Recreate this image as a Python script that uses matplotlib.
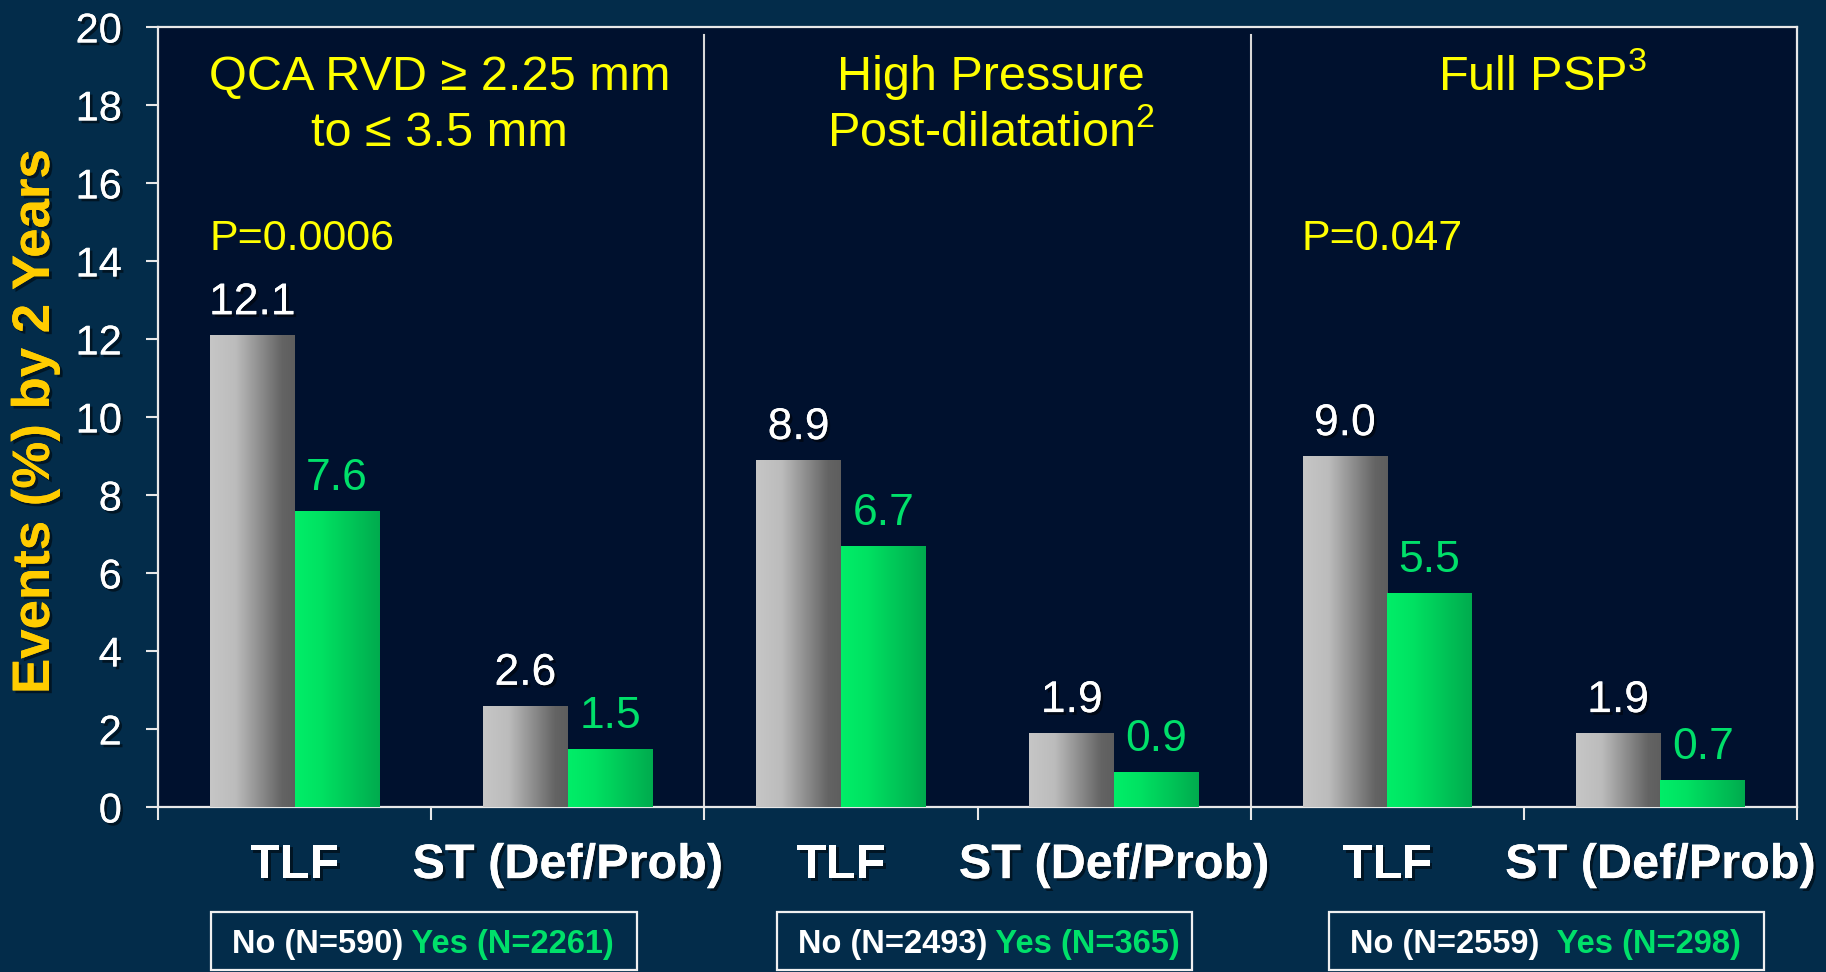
import matplotlib
matplotlib.use("Agg")
import matplotlib.pyplot as plt
import matplotlib.patheffects as pe
from matplotlib.colors import LinearSegmentedColormap
from matplotlib.patches import Rectangle
import numpy as np

# two-year event rates, grouped as (TLF, ST) per subgroup
panel_titles = ["QCA RVD \u2265 2.25 mm\nto \u2264 3.5 mm", "High Pressure\nPost-dilatation$^{2}$", "Full PSP$^{3}$"]
endpoints = ["TLF", "ST (Def/Prob)"]
no_rates = [12.1, 2.6, 8.9, 1.9, 9.0, 1.9]
yes_rates = [7.6, 1.5, 6.7, 0.9, 5.5, 0.7]
p_values = ["P=0.0006", None, "P=0.047"]
no_n = [590, 2493, 2559]
yes_n = [2261, 365, 298]

BG = "#032c4a"
PANEL = "#00112e"
YELLOW = "#ffff00"
GREEN_TXT = "#00e06a"
SANS = ["Liberation Sans", "DejaVu Sans"]

plt.rcParams["font.family"] = SANS
plt.rcParams["mathtext.fontset"] = "custom"
plt.rcParams["mathtext.rm"] = "Liberation Sans"
plt.rcParams["mathtext.it"] = "Liberation Sans:italic"
plt.rcParams["mathtext.bf"] = "Liberation Sans:bold"

gray_cmap = LinearSegmentedColormap.from_list(
    "gray_bar", [(0, "#c6c6c6"), (0.3, "#bcbcbc"), (0.85, "#646464"), (1, "#5e5e5e")])
green_cmap = LinearSegmentedColormap.from_list(
    "green_bar", [(0, "#00ee68"), (0.3, "#00e262"), (1, "#00ab4e")])

W, H = 1826, 972
fig = plt.figure(figsize=(W / 100, H / 100), dpi=100, facecolor=BG)
ax = fig.add_axes([158 / W, 1 - 807 / H, (1797 - 158) / W, (807 - 27) / H])
ax.set_facecolor(PANEL)

x = np.arange(len(no_rates))
bw = 0.31
shadow = [pe.withSimplePatchShadow(offset=(2, -2), shadow_rgbFace="black", alpha=0.5), pe.Normal()]


def gradient_bars(xs, heights, cmap):
    bars = ax.bar(xs, heights, width=bw, color="none", edgecolor="none", zorder=3)
    grad = np.linspace(0, 1, 256).reshape(1, -1)
    for b in bars:
        x0, y0 = b.get_x(), b.get_y()
        im = ax.imshow(grad, cmap=cmap, aspect="auto", zorder=3,
                       extent=[x0, x0 + b.get_width(), y0, y0 + b.get_height()])
        im.set_clip_path(b)
    return bars


gradient_bars(x - bw / 2, no_rates, gray_cmap)
gradient_bars(x + bw / 2, yes_rates, green_cmap)

for xi, v in zip(x, no_rates):
    ax.annotate(f"{v:.1f}", (xi - bw / 2, v), xytext=(0, 15), textcoords="offset points",
                ha="center", va="baseline", color="white", fontsize=32, path_effects=shadow)
for xi, v in zip(x, yes_rates):
    ax.annotate(f"{v:.1f}", (xi + bw / 2, v), xytext=(0, 15), textcoords="offset points",
                ha="center", va="baseline", color=GREEN_TXT, fontsize=32)

ax.set_xlim(-0.5, 5.5)
ax.set_ylim(0, 20)

# panel separators
for xd in (1.5, 3.5):
    ax.axvline(xd, ymax=0.99, color="#d8d8d8", lw=1.5, zorder=2)

# subgroup titles and p-values
title_x = [0.53, 2.55, 4.57]
for i, title in enumerate(panel_titles):
    for j, line in enumerate(title.split("\n")):
        ax.text(title_x[i], 18.39 - j * 1.43, line, ha="center", va="baseline",
                color=YELLOW, fontsize=35)
    if p_values[i]:
        ax.text(2 * i - 0.313, 14.27, p_values[i], ha="left", va="baseline",
                color=YELLOW, fontsize=31)

for s in ax.spines.values():
    s.set_color("#e8e8e8")
    s.set_linewidth(1.6)

ax.set_yticks(np.arange(0, 21, 2))
ax.tick_params(axis="y", colors="#e8e8e8", length=9, width=1.5, pad=17, labelsize=30,
               labelcolor="white")
for t in ax.get_yticklabels():
    t.set_path_effects(shadow)

ax.set_xticks(np.arange(-0.5, 6, 1))
ax.set_xticklabels([])
ax.tick_params(axis="x", colors="#e8e8e8", length=9, width=1.5)
ax.set_xticks(x, endpoints * 3, minor=True)
ax.tick_params(axis="x", which="minor", length=0, pad=26, labelsize=35, labelcolor="white")
for t in ax.get_xticklabels(minor=True):
    t.set_fontweight("bold")
    t.set_path_effects(shadow)

fig.text(35 / W, 1 - 422 / H, "Events (%) by 2 Years", rotation=90, ha="center", va="center",
         color="#ffcc00", fontsize=38, fontweight="bold", path_effects=shadow)

# group size boxes under each subgroup
box_x = [(211, 637), (777, 1192), (1329, 1764)]
text_x = [232, 798, 1350]
gaps = [" ", " ", "  "]
no_texts = []
for (bx0, bx1), tx, n0 in zip(box_x, text_x, no_n):
    fig.patches.append(Rectangle((bx0 / W, 1 - 970 / H), (bx1 - bx0) / W, 58 / H,
                                 transform=fig.transFigure, facecolor=BG,
                                 edgecolor="#f0f0f0", lw=1.6))
    no_texts.append(fig.text(tx / W, 1 - 953 / H, f"No (N={n0})", color="white", fontsize=23.5,
                             fontweight="bold", ha="left", va="baseline"))

# the green part starts where the white part ends
fig.canvas.draw()
for t_no, n1, gap in zip(no_texts, yes_n, gaps):
    bb = t_no.get_window_extent()
    fig.text(bb.x1 / W, 1 - 953 / H, f"{gap}Yes (N={n1})", color=GREEN_TXT, fontsize=23.5,
             fontweight="bold", ha="left", va="baseline")

fig.savefig("out.png", dpi=100, facecolor=BG)
